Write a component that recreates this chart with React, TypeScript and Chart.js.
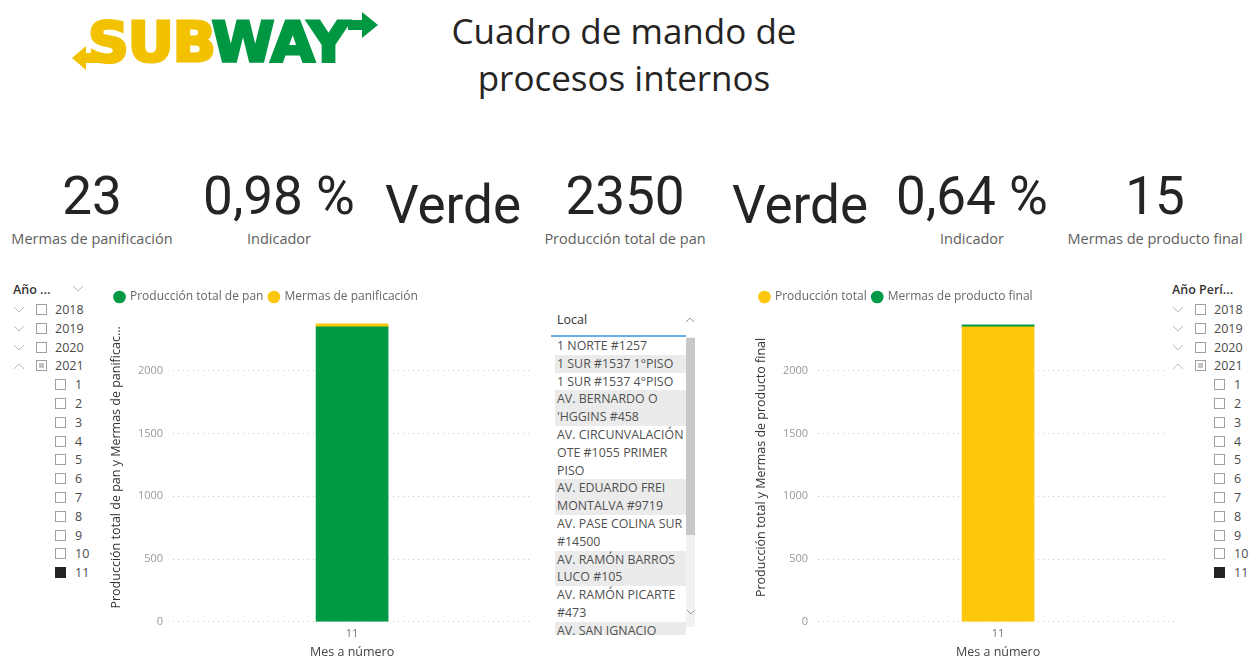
import React, { useEffect, useRef } from "react";
import { Chart, registerables } from "chart.js";

Chart.register(...registerables);

// ---------- data ----------
const meses = ["11"];
const produccionTotalPan = [2350];
const mermasPanificacion = [23];
const produccionTotal = [2350];
const mermasProductoFinal = [15];
const yTickValues = [0, 500, 1000, 1500, 2000];
const yAxisMax = 2460;

const kpiValues = ["23", "0,98 %", "Verde", "2350", "Verde", "0,64 %", "15"];
const kpiLabels = ["Mermas de panificación", "Indicador", "", "Producción total de pan", "", "Indicador", "Mermas de producto final"];
const kpiCenters = [92, 279, 453, 625, 800, 972, 1155];

const years = ["2018", "2019", "2020", "2021"];
const months = ["1", "2", "3", "4", "5", "6", "7", "8", "9", "10", "11"];

const locales = [
  "1 NORTE #1257",
  "1 SUR #1537 1°PISO",
  "1 SUR #1537 4°PISO",
  "AV. BERNARDO O 'HGGINS #458",
  "AV. CIRCUNVALACIÓN OTE #1055 PRIMER PISO",
  "AV. EDUARDO FREI MONTALVA #9719",
  "AV. PASE COLINA SUR #14500",
  "AV. RAMÓN BARROS LUCO #105",
  "AV. RAMÓN PICARTE #473",
  "AV. SAN IGNACIO #3200",
];

const GREEN = "#009A44";
const YELLOW = "#FDC70C";
const SANS = "'Open Sans', 'Noto Sans', sans-serif";

Chart.defaults.font.family = SANS;

type Series = { label: string; data: number[]; color: string };

function BarChart(props: {
  left: number; top: number; width: number; height: number;
  labels: string[]; series: Series[]; yTitle: string;
}) {
  const ref = useRef<HTMLCanvasElement | null>(null);
  useEffect(() => {
    if (!ref.current) return;
    const chart = new Chart(ref.current, {
      type: "bar",
      data: {
        labels: props.labels,
        datasets: props.series.map((s) => ({
          label: s.label,
          data: s.data,
          backgroundColor: s.color,
          borderWidth: 0,
          barThickness: 72,
        })),
      },
      options: {
        responsive: false,
        animation: false,
        layout: { padding: { left: 4, right: 0, top: 0, bottom: 0 } },
        plugins: {
          legend: {
            position: "top",
            align: "start",
            labels: {
              usePointStyle: true,
              pointStyle: "circle",
              boxWidth: 9,
              boxHeight: 9,
              padding: 6,
              color: "#666",
              font: { size: 12, family: SANS },
            },
          },
          tooltip: { enabled: false },
        },
        scales: {
          x: {
            stacked: true,
            grid: { display: false, drawTicks: false },
            border: { display: false },
            ticks: { color: "#777", font: { size: 11 }, padding: 5 },
            title: { display: true, text: "Mes a número", color: "#444", font: { size: 12.5 }, padding: { top: 0, bottom: 0 } },
          },
          y: {
            stacked: true,
            min: 0,
            max: yAxisMax,
            afterBuildTicks: (scale: any) => {
              scale.ticks = yTickValues.map((v) => ({ value: v }));
            },
            grid: { color: "#c8c8c8", lineWidth: 1, drawTicks: false },
            border: { display: false, dash: [1, 4] },
            ticks: {
              color: "#999",
              font: { size: 11 },
              padding: 10,
              callback: (v: any) => String(v),
            },
            title: { display: true, text: props.yTitle, color: "#333", font: { size: 12.5 }, padding: { top: 0, bottom: 4 } },
          },
        },
      },
    });
    return () => chart.destroy();
  }, []);
  return (
    <canvas
      ref={ref}
      width={props.width}
      height={props.height}
      style={{ position: "absolute", left: props.left, top: props.top, width: props.width, height: props.height }}
    />
  );
}

function Chevron({ x, y, up }: { x: number; y: number; up?: boolean }) {
  return (
    <svg style={{ position: "absolute", left: x - 6, top: y - 4 }} width={12} height={8}>
      <polyline
        points={up ? "1,7 6,2 11,7" : "1,1 6,6 11,1"}
        fill="none" stroke="#bbb" strokeWidth={1} />
    </svg>
  );
}

function CheckBox({ x, y, state }: { x: number; y: number; state: "off" | "partial" | "on" }) {
  return (
    <div style={{
      position: "absolute", left: x, top: y - 6, width: 11, height: 11, boxSizing: "border-box",
      border: state === "on" ? "1px solid #222" : "1px solid #a0a0a0",
      background: state === "on" ? "#222" : "#fff",
    }}>
      {state === "partial" && <div style={{ position: "absolute", left: 2, top: 2, width: 5, height: 5, background: "#c4c4c4" }} />}
    </div>
  );
}

function Slicer({ x0, title, headerChevron }: { x0: number; title: string; headerChevron: boolean }) {
  const rowStart = 310;
  const rowStep = 18.8;
  const txt: React.CSSProperties = { position: "absolute", fontFamily: SANS, fontSize: 12.5, color: "#4a4a4a", lineHeight: "14px" };
  const items: React.ReactNode[] = [];
  years.forEach((y, i) => {
    const cy = rowStart + i * rowStep;
    const last = i === years.length - 1;
    items.push(<Chevron key={"c" + y} x={x0 + 6} y={cy} up={last} />);
    items.push(<CheckBox key={"b" + y} x={x0 + 23} y={cy} state={last ? "partial" : "off"} />);
    items.push(<div key={"t" + y} style={{ ...txt, left: x0 + 42, top: cy - 7 }}>{y}</div>);
  });
  months.forEach((m, j) => {
    const cy = rowStart + (years.length + j) * rowStep;
    const last = j === months.length - 1;
    items.push(<CheckBox key={"mb" + m} x={x0 + 42} y={cy} state={last ? "on" : "off"} />);
    items.push(<div key={"mt" + m} style={{ ...txt, left: x0 + 62, top: cy - 7 }}>{m}</div>);
  });
  return (
    <div>
      <div style={{ position: "absolute", left: x0 - 4, top: 280, width: 100, height: 305, background: "#fff" }} />
      <div style={{ ...txt, left: x0, top: 283, color: "#333", fontWeight: 600 }}>{title}</div>
      {headerChevron && <Chevron x={x0 + 65} y={289} />}
      {items}
    </div>
  );
}

function ListBox() {
  const lineH = 17.8;
  return (
    <div style={{ position: "absolute", left: 551, top: 308, width: 145, height: 327, overflow: "hidden", background: "#fff" }}>
      <div style={{ position: "absolute", left: 6, top: 3, fontFamily: SANS, fontSize: 12.5, color: "#333" }}>Local</div>
      <svg style={{ position: "absolute", left: 134, top: 8 }} width={10} height={7}>
        <polyline points="1,6 5,2 9,6" fill="none" stroke="#999" strokeWidth={1} />
      </svg>
      <div style={{ position: "absolute", left: 0, top: 27, width: 135, height: 2, background: "#69b0ea" }} />
      <div style={{ position: "absolute", left: 135, top: 29, width: 9, height: 290, background: "#f2f2f2" }} />
      <div style={{ position: "absolute", left: 135, top: 30, width: 9, height: 197, background: "#c8c8c8" }} />
      <svg style={{ position: "absolute", left: 135, top: 301 }} width={10} height={7}>
        <polyline points="1,1 5,5 9,1" fill="none" stroke="#999" strokeWidth={1} />
      </svg>
      <div style={{ position: "absolute", left: 4, top: 29, width: 131 }}>
        {locales.map((l, i) => (
          <div key={l} style={{
            fontFamily: SANS, fontSize: 12.4, lineHeight: lineH + "px", color: "#505050",
            background: i % 2 === 1 ? "#ebebeb" : "#fff", paddingLeft: 2, whiteSpace: "normal",
            wordBreak: "normal", overflow: "hidden",
          }}>{l}</div>
        ))}
      </div>
    </div>
  );
}

function Logo() {
  const letter: React.CSSProperties = {
    fontFamily: "'DejaVu Sans', 'Lato', sans-serif", fontWeight: 700, fontSize: 55, lineHeight: "58px",
  };
  return (
    <div style={{ position: "absolute", left: 72, top: 8, width: 310, height: 66 }}>
      <svg style={{ position: "absolute", left: 0, top: 0 }} width={310} height={66}>
        <polygon points="0,50 14,38 14,45 30,45 30,55 14,55 14,62" fill="#F2C200" />
        <polygon points="306,17 290,4 290,12 276,12 276,22 290,22 290,30" fill="#009743" />
      </svg>
      <div style={{ position: "absolute", left: 16, top: 5, whiteSpace: "nowrap", transform: "scaleX(1.03)", transformOrigin: "left top" }}>
        <span style={{ ...letter, color: "#F2C200", WebkitTextStroke: "3px #F2C200", letterSpacing: -1 } as any}>SUB</span>
        <span style={{ ...letter, color: "#009743", WebkitTextStroke: "3px #009743", letterSpacing: -1 } as any}>WAY</span>
      </div>
    </div>
  );
}

export default function App() {
  return (
    <div style={{ position: "fixed", left: 0, top: 0, width: 1257, height: 660, background: "#fff", overflow: "hidden" }}>
      <Logo />
      <div style={{
        position: "absolute", left: 374, top: 7, width: 500, textAlign: "center",
        fontFamily: SANS, fontSize: 35, lineHeight: "47px", color: "#252423",
      }}>
        Cuadro de mando de<br />procesos internos
      </div>
      {kpiValues.map((v, i) => {
        const isWord = kpiLabels[i] === "";
        return (
          <div key={"k" + i}>
            <div style={{
              position: "absolute", left: kpiCenters[i] - 100, width: 200, textAlign: "center",
              top: isWord ? 173 : 164, fontFamily: "Roboto, sans-serif", fontSize: 53, lineHeight: "64px", color: "#252423",
            }}>{v}</div>
            {!isWord && (
              <div style={{
                position: "absolute", left: kpiCenters[i] - 100, width: 200, textAlign: "center",
                top: 229, fontFamily: SANS, fontSize: 14.5, lineHeight: "20px", color: "#605E5C",
              }}>{kpiLabels[i]}</div>
            )}
          </div>
        );
      })}
      <BarChart
        left={105} top={285} width={426} height={375}
        labels={meses}
        series={[
          { label: "Producción total de pan", data: produccionTotalPan, color: GREEN },
          { label: "Mermas de panificación", data: mermasPanificacion, color: YELLOW },
        ]}
        yTitle="Producción total de pan y Mermas de panificac..."
      />
      <BarChart
        left={750} top={285} width={428} height={375}
        labels={meses}
        series={[
          { label: "Producción total", data: produccionTotal, color: YELLOW },
          { label: "Mermas de producto final", data: mermasProductoFinal, color: GREEN },
        ]}
        yTitle="Producción total y Mermas de producto final"
      />
      <ListBox />
      <Slicer x0={13} title="Año ..." headerChevron={true} />
      <Slicer x0={1172} title="Año Perí..." headerChevron={false} />
    </div>
  );
}
